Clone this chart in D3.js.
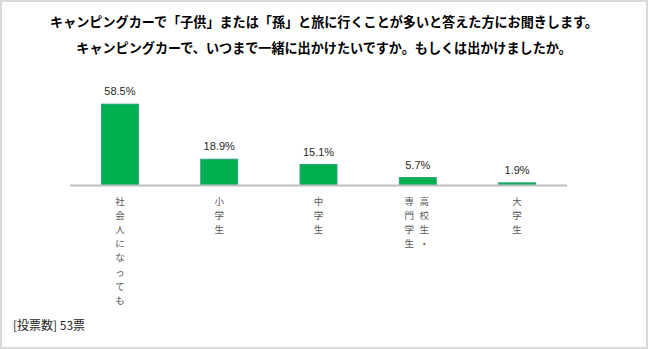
<!DOCTYPE html>
<html><head><meta charset="utf-8">
<script src="https://cdn.jsdelivr.net/npm/d3@7"></script>
<style>html,body{margin:0;padding:0;background:#fff;}svg{display:block;}</style>
</head><body>
<script>
const titleLines = ["キャンピングカーで「子供」または「孫」と旅に行くことが多いと答えた方にお聞きします。",
                    "キャンピングカーで、いつまで一緒に出かけたいですか。もしくは出かけましたか。"];
const categories = ["社会人になっても", "小学生", "中学生", "高校生・専門学生", "大学生"];
const labelColumns = [["社会人になっても"], ["小学生"], ["中学生"], ["高校生・", "専門学生"], ["大学生"]];
const values = [58.5, 18.9, 15.1, 5.7, 1.9];
const footnote = "[投票数] 53票";

const W = 648, H = 349;
const svg = d3.select("body").append("svg").attr("width", W).attr("height", H);
svg.append("rect").attr("x", 1).attr("y", 1).attr("width", W - 2).attr("height", H - 2)
  .attr("fill", "#fff").attr("stroke", "#d9d9d9").attr("stroke-width", 2);

const cjk = "'Noto Sans CJK JP', 'Noto Sans', sans-serif";
svg.selectAll("text.title").data(titleLines).join("text").attr("class", "title")
  .attr("x", 324).attr("y", (d, i) => 27 + i * 26)
  .attr("text-anchor", "middle").attr("font-family", cjk).attr("font-weight", "bold")
  .attr("font-size", "13.1px").attr("fill", "#000").text(d => d);

const x = d3.scaleBand().domain(categories).range([70, 567]).paddingInner(0.618).paddingOuter(0.312);
const y = d3.scaleLinear().domain([0, 100]).range([185, 46]);

svg.selectAll("rect.bar").data(values).join("rect").attr("class", "bar")
  .attr("x", (d, i) => x(categories[i]) + 0.5).attr("y", d => y(d) + 0.5)
  .attr("width", x.bandwidth() - 1).attr("height", d => y(0) - y(d))
  .attr("fill", "#00b050").attr("stroke", "#26a27a").attr("stroke-width", 1);

svg.append("line").attr("x1", x.range()[0]).attr("x2", x.range()[1])
  .attr("y1", y(0) + 0.5).attr("y2", y(0) + 0.5).attr("stroke", "#bfbfbf").attr("stroke-width", 2);

svg.selectAll("text.val").data(values).join("text").attr("class", "val")
  .attr("x", (d, i) => x(categories[i]) + x.bandwidth() / 2).attr("y", d => y(d) - 8.5)
  .attr("text-anchor", "middle").attr("font-family", "'Liberation Sans', Arial, sans-serif")
  .attr("font-size", "11px").attr("fill", "#262626").text(d => d.toFixed(1) + "%");

// vertical category labels (columns right to left)
labelColumns.forEach((cols, i) => {
  const cx = x(categories[i]) + x.bandwidth() / 2;
  const n = cols.length, gap = 15;
  cols.forEach((col, j) => {
    const colX = cx + ((n - 1) / 2 - j) * gap - (n > 1 ? 1 : 0);
    Array.from(col).forEach((ch, k) => {
      svg.append("text").attr("x", colX).attr("y", 201 + k * 14.1)
        .attr("text-anchor", "middle").attr("dominant-baseline", "central")
        .attr("font-family", cjk).attr("font-size", "9.5px").attr("fill", "#595959").text(ch);
    });
  });
});

svg.append("text").attr("x", 13).attr("y", 329.5).attr("font-family", cjk)
  .attr("font-size", "12px").attr("fill", "#262626").text(footnote);
</script>
</body></html>
